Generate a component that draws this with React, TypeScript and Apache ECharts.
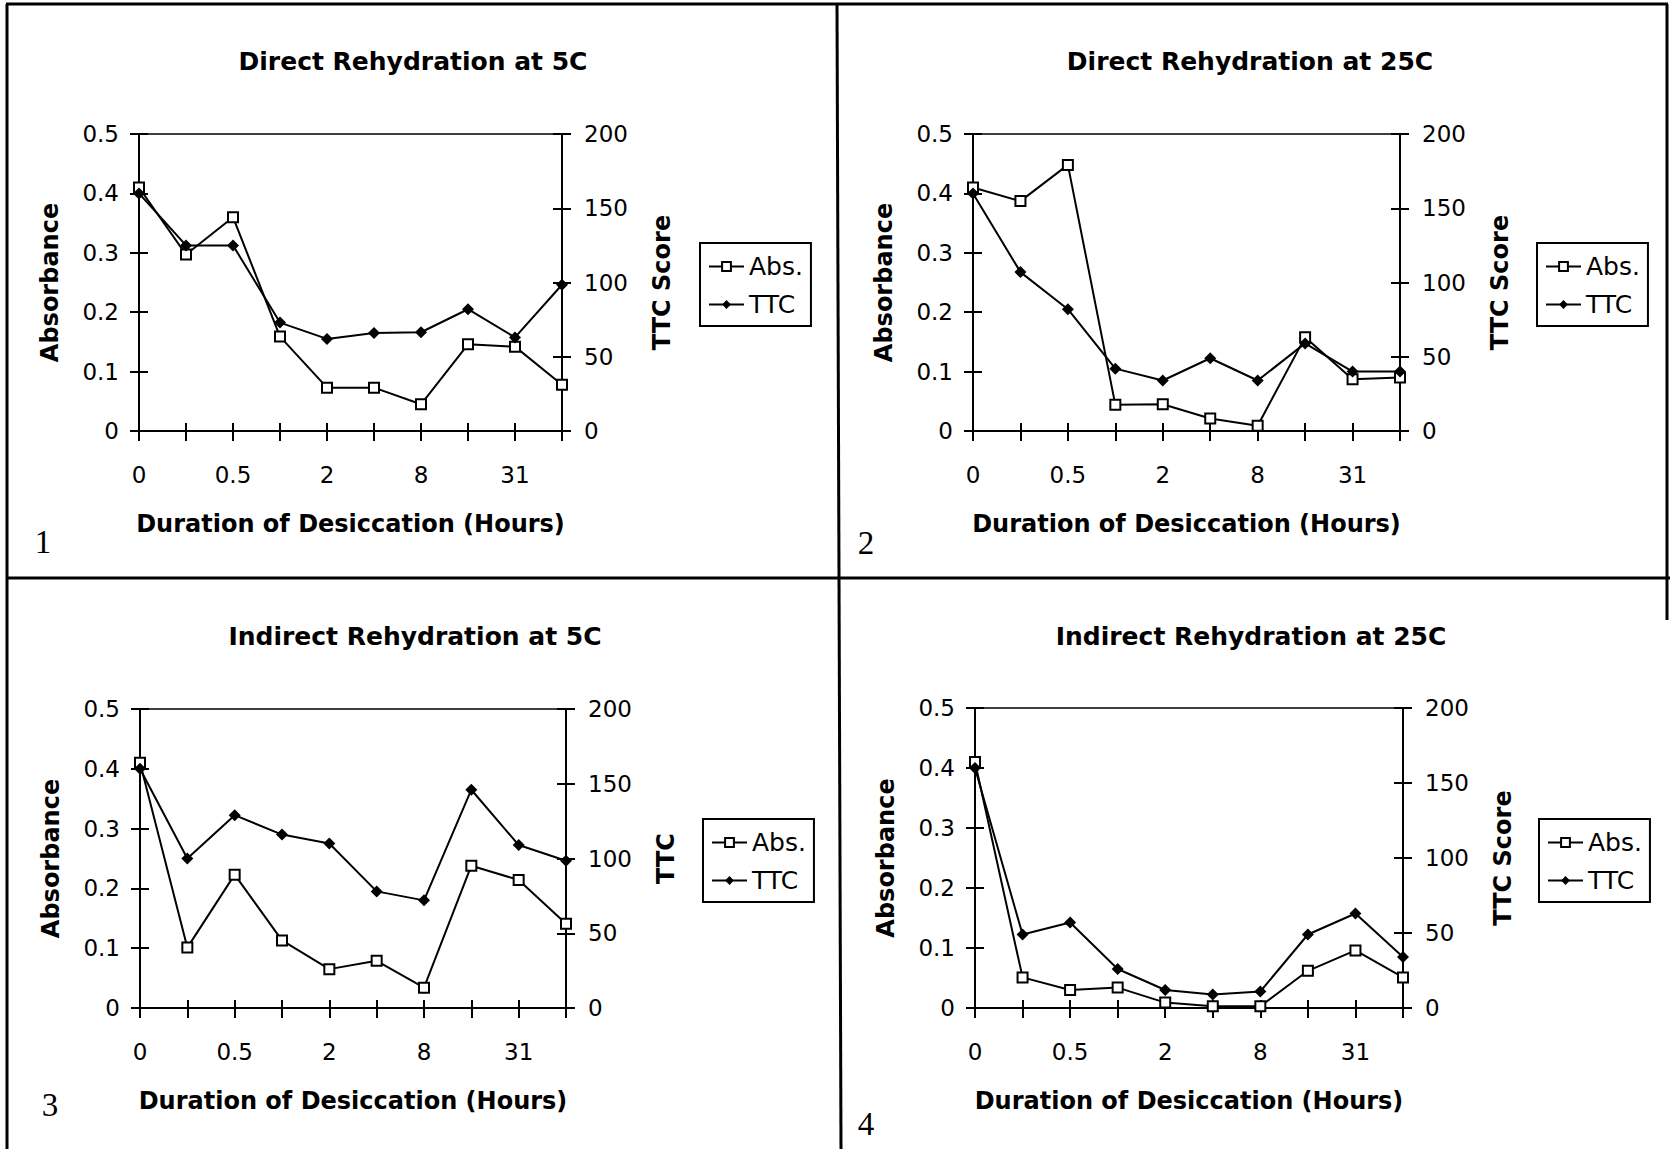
import React, { useEffect, useRef } from "react";
import * as echarts from "echarts";

// Desiccation durations (hours); only every other one is labelled on the axis.
const hours = ["0", "0.25", "0.5", "1", "2", "4", "8", "16", "31", "48"];

const panelTitles = [
  "Direct Rehydration at 5C",
  "Direct Rehydration at 25C",
  "Indirect Rehydration at 5C",
  "Indirect Rehydration at 25C",
];
const panelNumbers = ["1", "2", "3", "4"];
const absAxisName = "Absorbance";
const ttcAxisNames = ["TTC Score", "TTC Score", "TTC", "TTC Score"];
const xAxisName = "Duration of Desiccation (Hours)";
const seriesNames = ["Abs.", "TTC"];

// Absorbance readings
const absDirect5 = [0.41, 0.297, 0.36, 0.159, 0.073, 0.073, 0.045, 0.146, 0.142, 0.078];
const absDirect25 = [0.41, 0.387, 0.448, 0.044, 0.045, 0.021, 0.009, 0.158, 0.087, 0.09];
const absIndirect5 = [0.41, 0.101, 0.223, 0.113, 0.065, 0.079, 0.034, 0.238, 0.214, 0.141];
const absIndirect25 = [0.41, 0.051, 0.03, 0.034, 0.009, 0.003, 0.003, 0.062, 0.096, 0.051];

// TTC scores
const ttcDirect5 = [160, 125, 125, 73, 62, 66, 66.5, 82, 63, 98.5];
const ttcDirect25 = [160, 107, 82, 42, 34, 49, 34, 59, 40, 40];
const ttcIndirect5 = [160, 100, 129, 116, 110, 78, 72, 146, 109, 98.5];
const ttcIndirect25 = [160, 49, 57, 26, 12, 9, 11, 49, 63, 34];

const absSets = [absDirect5, absDirect25, absIndirect5, absIndirect25];
const ttcSets = [ttcDirect5, ttcDirect25, ttcIndirect5, ttcIndirect25];

const ABS_MAX = 0.5;
const ABS_STEP = 0.1;
const TTC_MAX = 200;
const TTC_STEP = 50;

const FONT = "DejaVu Sans";
const INK = "#000";

// Placement of each panel on the page
const panels = [
  { grid: { left: 139, top: 134, width: 423, height: 297 }, legend: { left: 700, top: 243 }, title: { x: 413, y: 49 }, num: { x: 43, y: 542 } },
  { grid: { left: 973, top: 134, width: 427, height: 297 }, legend: { left: 1537, top: 243 }, title: { x: 1250, y: 49 }, num: { x: 866, y: 543 } },
  { grid: { left: 140, top: 709, width: 426, height: 299 }, legend: { left: 703, top: 819 }, title: { x: 415, y: 624 }, num: { x: 50, y: 1105 } },
  { grid: { left: 975, top: 708, width: 428, height: 300 }, legend: { left: 1539, top: 819 }, title: { x: 1251, y: 624 }, num: { x: 866, y: 1124 } },
];

function buildOption() {
  const grid: any[] = [];
  const xAxis: any[] = [];
  const yAxis: any[] = [];
  const series: any[] = [];
  const legend: any[] = [];
  const title: any[] = [];
  const graphic: any[] = [];

  const tickLine = { color: INK, width: 2 };
  const labelStyle = { color: INK, fontFamily: FONT, fontSize: 23 };
  const nameStyle = { color: INK, fontFamily: FONT, fontSize: 24, fontWeight: "bold" };

  panels.forEach((p, i) => {
    // main plotting grid, plus a twin grid that only carries the inward half of each tick
    grid.push({ ...p.grid, show: true, borderColor: INK, borderWidth: 1.5, backgroundColor: "transparent" });
    grid.push({ ...p.grid, show: false });

    xAxis.push({
      type: "category",
      gridIndex: 2 * i,
      data: hours,
      boundaryGap: false,
      axisLine: { lineStyle: tickLine },
      axisTick: { interval: 0, length: 10, lineStyle: tickLine },
      axisLabel: { interval: 1, margin: 32, ...labelStyle },
      splitLine: { show: false },
      name: xAxisName,
      nameLocation: "middle",
      nameGap: 81,
      nameTextStyle: nameStyle,
    });
    xAxis.push({
      type: "category",
      gridIndex: 2 * i + 1,
      data: hours,
      boundaryGap: false,
      axisLine: { show: false },
      axisTick: { interval: 0, inside: true, length: 8, lineStyle: tickLine },
      axisLabel: { show: false },
      splitLine: { show: false },
    });

    yAxis.push({
      type: "value",
      gridIndex: 2 * i,
      position: "left",
      min: 0,
      max: ABS_MAX,
      interval: ABS_STEP,
      axisLine: { show: true, lineStyle: tickLine },
      axisTick: { show: true, length: 9, lineStyle: tickLine },
      axisLabel: { margin: 20, ...labelStyle },
      splitLine: { show: false },
      name: absAxisName,
      nameLocation: "middle",
      nameRotate: 90,
      nameGap: 77,
      nameTextStyle: nameStyle,
    });
    yAxis.push({
      type: "value",
      gridIndex: 2 * i,
      position: "right",
      min: 0,
      max: TTC_MAX,
      interval: TTC_STEP,
      axisLine: { show: true, lineStyle: tickLine },
      axisTick: { show: true, length: 9, lineStyle: tickLine },
      axisLabel: { margin: 22, ...labelStyle },
      splitLine: { show: false },
      name: ttcAxisNames[i],
      nameLocation: "middle",
      nameRotate: 90,
      nameGap: 88,
      nameTextStyle: nameStyle,
    });
    yAxis.push({
      type: "value",
      gridIndex: 2 * i + 1,
      position: "left",
      min: 0,
      max: ABS_MAX,
      interval: ABS_STEP,
      axisLine: { show: false },
      axisTick: { show: true, inside: true, length: 9, lineStyle: tickLine },
      axisLabel: { show: false },
      splitLine: { show: false },
    });
    yAxis.push({
      type: "value",
      gridIndex: 2 * i + 1,
      position: "right",
      min: 0,
      max: TTC_MAX,
      interval: TTC_STEP,
      axisLine: { show: false },
      axisTick: { show: true, inside: true, length: 9, lineStyle: tickLine },
      axisLabel: { show: false },
      splitLine: { show: false },
    });

    series.push({
      name: seriesNames[0],
      type: "line",
      xAxisIndex: 2 * i,
      yAxisIndex: 4 * i,
      data: absSets[i],
      symbol: "rect",
      symbolSize: 10,
      showAllSymbol: true,
      lineStyle: { color: INK, width: 2 },
      itemStyle: { color: "#fff", borderColor: INK, borderWidth: 2 },
      z: 3,
    });
    series.push({
      name: seriesNames[1],
      type: "line",
      xAxisIndex: 2 * i,
      yAxisIndex: 4 * i + 1,
      data: ttcSets[i],
      symbol: "diamond",
      symbolSize: 12,
      showAllSymbol: true,
      lineStyle: { color: INK, width: 2 },
      itemStyle: { color: INK },
      z: 4,
    });

    legend.push({
      data: seriesNames,
      orient: "vertical",
      left: p.legend.left,
      top: p.legend.top,
      padding: [11, 8, 9, 8],
      itemGap: 13,
      itemWidth: 35,
      itemHeight: 11,
      borderColor: INK,
      borderWidth: 2,
      borderRadius: 0,
      selectedMode: false,
      textStyle: { color: INK, fontFamily: FONT, fontSize: 25 },
    });

    title.push({
      text: panelTitles[i],
      left: p.title.x - 5,
      top: p.title.y - 5,
      textAlign: "center",
      textStyle: { color: INK, fontFamily: FONT, fontSize: 25, fontWeight: "bold" },
    });

    graphic.push({
      type: "text",
      x: p.num.x,
      y: p.num.y,
      style: {
        text: panelNumbers[i],
        fill: INK,
        font: '33px "Liberation Serif"',
        textAlign: "center",
        textVerticalAlign: "middle",
        align: "center",
        verticalAlign: "middle",
      },
    });
  });

  // frame around the four panels
  const frame = [
    [6, 4, 1668, 4],
    [7, 4, 7, 1149],
    [1667, 4, 1667, 620],
    [7, 578, 1670, 578],
    [837, 4, 841, 1149],
  ];
  frame.forEach(([x1, y1, x2, y2]) => {
    graphic.push({
      type: "line",
      shape: { x1, y1, x2, y2 },
      style: { stroke: INK, lineWidth: 3 },
    });
  });

  return {
    animation: false,
    backgroundColor: "#fff",
    textStyle: { fontFamily: FONT, color: INK },
    title,
    legend,
    grid,
    xAxis,
    yAxis,
    series,
    graphic,
  };
}

export default function App() {
  const ref = useRef<HTMLDivElement>(null);

  useEffect(() => {
    if (!ref.current) return;
    const chart = echarts.init(ref.current, undefined, { renderer: "svg" });
    chart.setOption(buildOption() as any);
    return () => chart.dispose();
  }, []);

  return (
    <div
      ref={ref}
      style={{ position: "absolute", left: 0, top: 0, width: 1670, height: 1149, background: "#fff" }}
    />
  );
}
